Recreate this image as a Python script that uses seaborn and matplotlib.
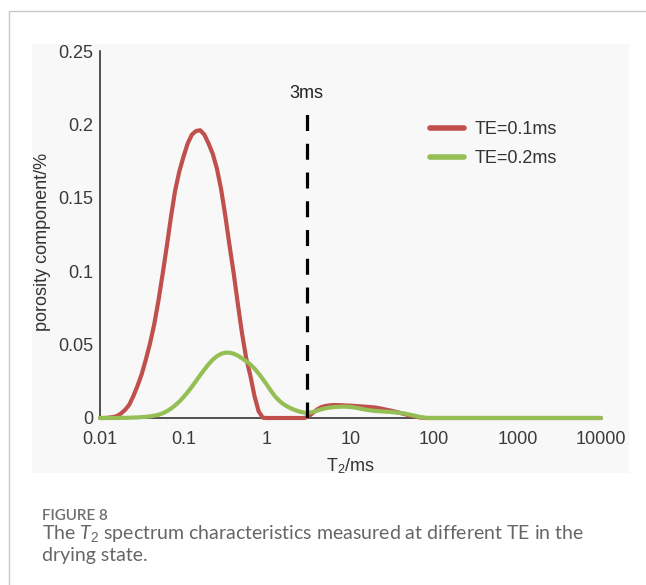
import numpy as np
import pandas as pd
import matplotlib
matplotlib.use("Agg")
import matplotlib.pyplot as plt
from matplotlib.patches import Rectangle
from matplotlib.lines import Line2D
import seaborn as sns

# T2 relaxation grid (ms): 0.05-decade steps up to 100 ms, then sparse to 10 s
t2_ms = list(np.logspace(-2, 2, 81)) + [316.2, 1000.0, 3162.3, 10000.0]

te_01 = [0.0, 0.0, 0.0002, 0.0006, 0.0012, 0.0030, 0.0055, 0.0090, 0.0150, 0.0220,
         0.0300, 0.0400, 0.0510, 0.0640, 0.0800, 0.0980, 0.1170, 0.1370, 0.1550, 0.1680,
         0.1780, 0.1870, 0.1930, 0.1955, 0.1960, 0.1930, 0.1870, 0.1800, 0.1700, 0.1560,
         0.1380, 0.1180, 0.0990, 0.0780, 0.0580, 0.0410, 0.0290, 0.0150, 0.0045, 0.0002,
         0.0, 0.0, 0.0, 0.0, 0.0, 0.0, 0.0, 0.0, 0.0, 0.0,
         0.0012, 0.0035, 0.0058, 0.0074, 0.0082, 0.0086, 0.0088, 0.0088, 0.0087, 0.0085,
         0.0084, 0.0082, 0.0080, 0.0078, 0.0076, 0.0074, 0.0071, 0.0066, 0.0060, 0.0054,
         0.0048, 0.0041, 0.0034, 0.0026, 0.0019, 0.0013, 0.0007, 0.0002, 0.0, 0.0,
         0.0, 0.0, 0.0, 0.0, 0.0]

te_02 = [0.0, 0.0, 0.0, 0.0, 0.0, 0.0001, 0.0001, 0.0002, 0.0003, 0.0004,
         0.0006, 0.0008, 0.0011, 0.0016, 0.0022, 0.0032, 0.0046, 0.0064, 0.0086, 0.0112,
         0.0142, 0.0176, 0.0213, 0.0252, 0.0292, 0.0330, 0.0366, 0.0397, 0.0421, 0.0437,
         0.0445, 0.0445, 0.0438, 0.0425, 0.0407, 0.0387, 0.0365, 0.0337, 0.0303, 0.0265,
         0.0225, 0.0183, 0.0145, 0.0116, 0.0093, 0.0076, 0.0062, 0.0051, 0.0042, 0.0036,
         0.0035, 0.0041, 0.0050, 0.0059, 0.0066, 0.0071, 0.0074, 0.0076, 0.0077, 0.0077,
         0.0075, 0.0071, 0.0066, 0.0060, 0.0055, 0.0051, 0.0048, 0.0046, 0.0044, 0.0042,
         0.0040, 0.0037, 0.0034, 0.0030, 0.0024, 0.0018, 0.0011, 0.0005, 0.0001, 0.0,
         0.0, 0.0, 0.0, 0.0, 0.0]

series_names = ["TE=0.1ms", "TE=0.2ms"]
series_colors = ["#c0504d", "#95be55"]

x_ticks = [0.01, 0.1, 1, 10, 100, 1000, 10000]
x_ticklabels = ["0.01", "0.1", "1", "10", "100", "1000", "10000"]
y_ticks = [0, 0.05, 0.1, 0.15, 0.2, 0.25]
y_ticklabels = ["0", "0.05", "0.1", "0.15", "0.2", "0.25"]

cutoff_ms = 3
cutoff_label = "3ms"

df = pd.DataFrame({
    "T2": t2_ms * 2,
    "amp": te_01 + te_02,
    "series": [series_names[0]] * len(t2_ms) + [series_names[1]] * len(t2_ms),
})

sns.set_style("white")
plt.rcParams["font.family"] = ["Liberation Sans", "DejaVu Sans"]
plt.rcParams["mathtext.fontset"] = "custom"
plt.rcParams["mathtext.rm"] = "Liberation Sans"
plt.rcParams["mathtext.it"] = "Lato:italic"

W, H = 646, 585
FS = 13
fig = plt.figure(figsize=(W / 100, H / 100), dpi=100)
fig.patch.set_facecolor("white")

# page frame and light panel behind the chart
fig.add_artist(Line2D([9 / W, 1.0], [1 - 11 / H, 1 - 11 / H], color="#c9c9c9", lw=1.0))
fig.add_artist(Line2D([9 / W, 9 / W], [0.0, 1 - 11 / H], color="#c9c9c9", lw=1.0))
fig.add_artist(Rectangle((32 / W, (H - 473) / H), 597 / W, 429 / H,
                         facecolor="#f8f8f8", edgecolor="none", zorder=0))

ax = fig.add_axes([100 / W, (H - 418) / H, 501 / W, 367 / H])
ax.set_facecolor("none")

sns.lineplot(data=df, x="T2", y="amp", hue="series", hue_order=series_names,
             palette=series_colors, estimator=None, sort=False, linewidth=3.0,
             ax=ax, legend=True)
for ln in ax.lines:
    ln.set_clip_on(False)
    ln.set_zorder(3)
    ln.set_solid_capstyle("round")
    ln.set_solid_joinstyle("round")

ax.set_xscale("log")
ax.set_xlim(0.01, 10000)
ax.set_ylim(0, 0.25)

ax.vlines(cutoff_ms, 0, 0.211, colors="black", linestyles=(0, (5, 4)), lw=2.3, zorder=4)
ax.text(cutoff_ms, 0.221, cutoff_label, ha="center", va="center", fontsize=FS, color="#222222")

ax.set_xticks(x_ticks)
ax.set_xticklabels(x_ticklabels)
ax.xaxis.set_minor_locator(matplotlib.ticker.NullLocator())
ax.set_yticks(y_ticks)
ax.set_yticklabels(y_ticklabels)
ax.tick_params(axis="x", length=0, pad=9, labelsize=FS, labelcolor="#3a3a3a")
ax.tick_params(axis="y", direction="in", length=6, width=1.1, color="#333333",
               pad=5, labelsize=FS, labelcolor="#3a3a3a")

for side in ["top", "right"]:
    ax.spines[side].set_visible(False)
for side in ["left", "bottom"]:
    ax.spines[side].set_color("#222222")
    ax.spines[side].set_linewidth(1.1)

ax.set_xlabel(r"T$_{\mathregular{2}}$/ms", fontsize=FS, color="#333333")
ax.xaxis.set_label_coords(0.5, -0.105)
ax.set_ylabel("porosity component/%", fontsize=FS, color="#333333")
ax.yaxis.set_label_coords(-0.098, 0.48)

leg = ax.legend(loc="upper left", bbox_to_anchor=(430 / W, 1 - 121 / H),
                bbox_transform=fig.transFigure, frameon=False, fontsize=FS,
                handlelength=1.9, handletextpad=0.55, labelspacing=0.66,
                borderpad=0, borderaxespad=0)
for h in leg.get_lines():
    h.set_linewidth(4.0)
for t in leg.get_texts():
    t.set_color("#333333")

# caption
fig.text(42 / W, 1 - 516 / H, "FIGURE 8", family="Lato", fontweight="semibold",
         fontsize=11, color="#6e6e6e", va="center")
fig.text(42 / W, 1 - 533 / H,
         r"The $\mathit{T}_{\mathit{2}}$ spectrum characteristics measured at different TE in the",
         family="Lato", fontsize=14, color="#666666", va="center")
fig.text(42 / W, 1 - 555 / H, "drying state.", family="Lato", fontsize=14,
         color="#666666", va="center")

fig.savefig("out.png", dpi=100)
